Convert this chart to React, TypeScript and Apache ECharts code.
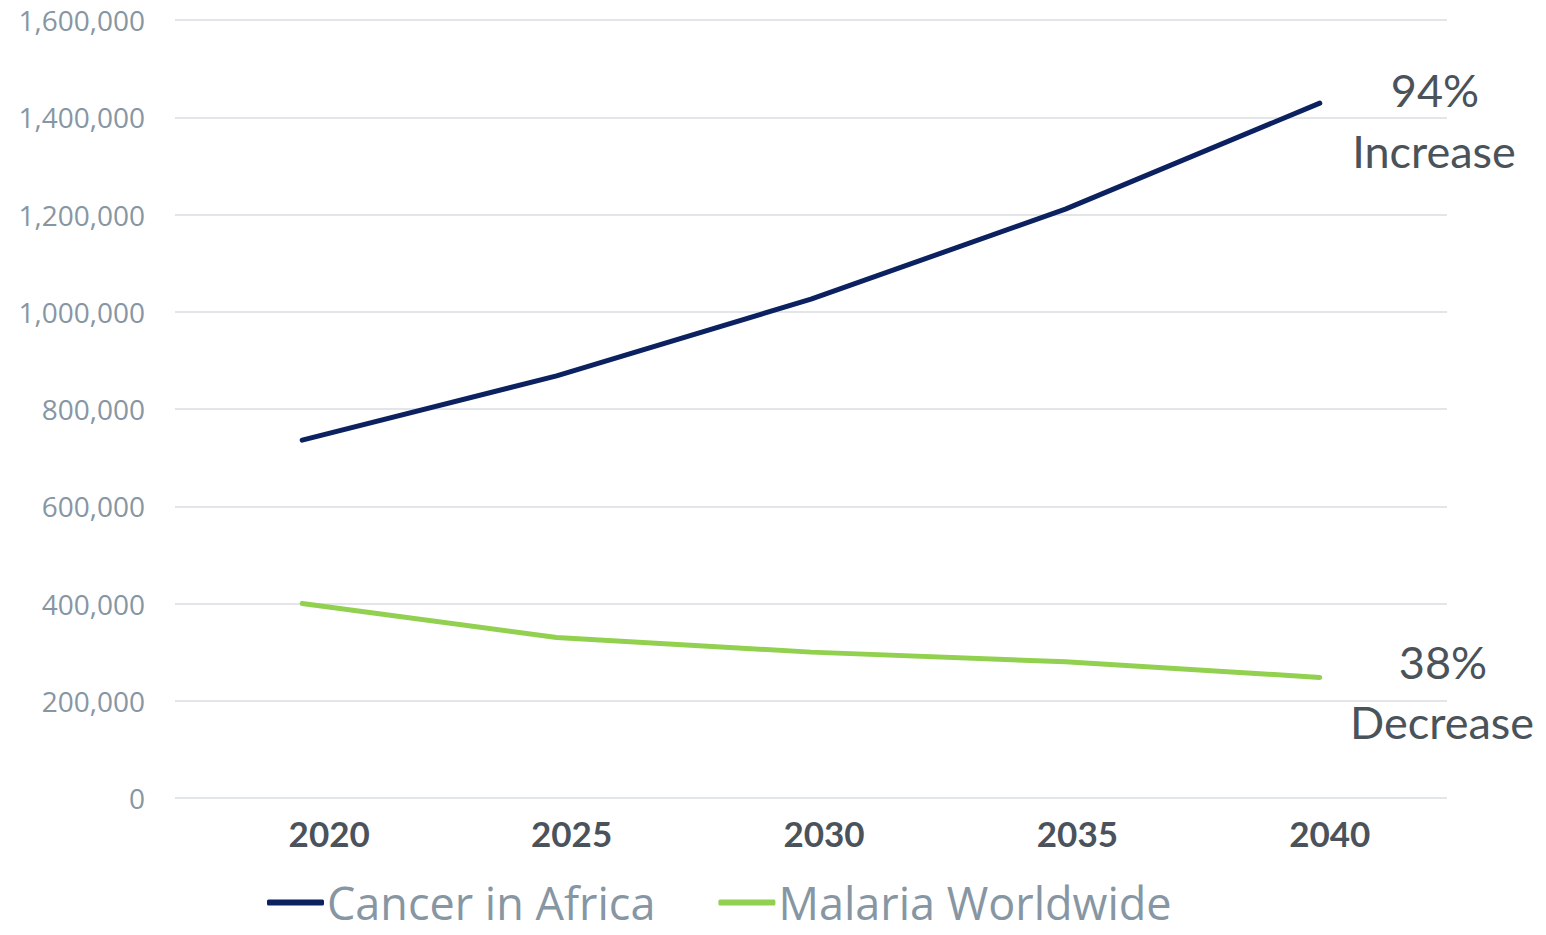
import React, { useEffect, useRef } from "react";
import * as echarts from "echarts";

const years = ["2020", "2025", "2030", "2035", "2040"];
const cancerAfrica = [736000, 868000, 1026000, 1211000, 1429000];
const malariaWorldwide = [400000, 330000, 300000, 280000, 248000];
const seriesNames = ["Cancer in Africa", "Malaria Worldwide"];
const seriesColors = ["#0c2260", "#92d050"];
const increaseNote = ["94%", "Increase"];
const decreaseNote = ["38%", "Decrease"];
// horizontal nudge of each year label to the right of its category centre
const yearLabelShift = [27, 15, 13, 12, 10];

export default function App() {
  const ref = useRef<HTMLDivElement>(null);

  useEffect(() => {
    if (!ref.current) return;
    const chart = echarts.init(ref.current, undefined, { renderer: "svg" });
    const noteStyle = {
      fontFamily: "Lato",
      fontSize: 45,
      fill: "#4a525a",
      textAlign: "center",
      textVerticalAlign: "middle",
    };
    const yearRich: Record<string, any> = {};
    yearLabelShift.forEach((s, i) => {
      yearRich["y" + i] = {
        fontFamily: "Lato",
        fontWeight: "bold",
        fontSize: 35,
        color: "#4a535b",
        padding: [0, 0, 0, s * 2],
      };
    });
    chart.setOption({
      animation: false,
      backgroundColor: "#ffffff",
      grid: { left: 175, right: 99, top: 20, bottom: 137, containLabel: false },
      xAxis: {
        type: "category",
        data: years,
        boundaryGap: true,
        axisLine: { show: false },
        axisTick: { show: false },
        axisLabel: {
          margin: 17,
          formatter: (v: string, i: number) => `{y${i}|${v}}`,
          rich: yearRich,
        },
      },
      yAxis: {
        type: "value",
        min: 0,
        max: 1600000,
        interval: 200000,
        axisLine: { show: false },
        axisTick: { show: false },
        splitLine: { lineStyle: { color: "#e3e6e9", width: 2 } },
        axisLabel: {
          margin: 30,
          fontFamily: "Open Sans",
          fontSize: 28,
          color: "#8796a3",
          formatter: (v: number) => v.toLocaleString("en-US"),
        },
      },
      legend: {
        left: 262,
        top: 875,
        itemGap: 63,
        itemWidth: 57,
        itemHeight: 6,
        icon: "roundRect",
        textStyle: {
          fontFamily: "Open Sans",
          fontSize: 45,
          lineHeight: 42,
          color: "#8796a3",
          padding: [0, 0, 0, -2],
        },
        data: seriesNames,
      },
      series: [
        {
          name: seriesNames[0],
          type: "line",
          data: cancerAfrica,
          showSymbol: false,
          symbol: "none",
          lineStyle: { color: seriesColors[0], width: 5, cap: "round" },
          itemStyle: { color: seriesColors[0] },
        },
        {
          name: seriesNames[1],
          type: "line",
          data: malariaWorldwide,
          showSymbol: false,
          symbol: "none",
          lineStyle: { color: seriesColors[1], width: 5, cap: "round" },
          itemStyle: { color: seriesColors[1] },
        },
      ],
      graphic: [
        { type: "text", x: 1435, y: 90, style: { ...noteStyle, text: increaseNote[0] } },
        { type: "text", x: 1434, y: 151, style: { ...noteStyle, text: increaseNote[1] } },
        { type: "text", x: 1443, y: 662, style: { ...noteStyle, text: decreaseNote[0] } },
        { type: "text", x: 1442, y: 722, style: { ...noteStyle, text: decreaseNote[1] } },
      ],
    });
    return () => chart.dispose();
  }, []);

  return (
    <div
      ref={ref}
      style={{ position: "fixed", left: 0, top: 0, width: 1546, height: 935 }}
    />
  );
}
